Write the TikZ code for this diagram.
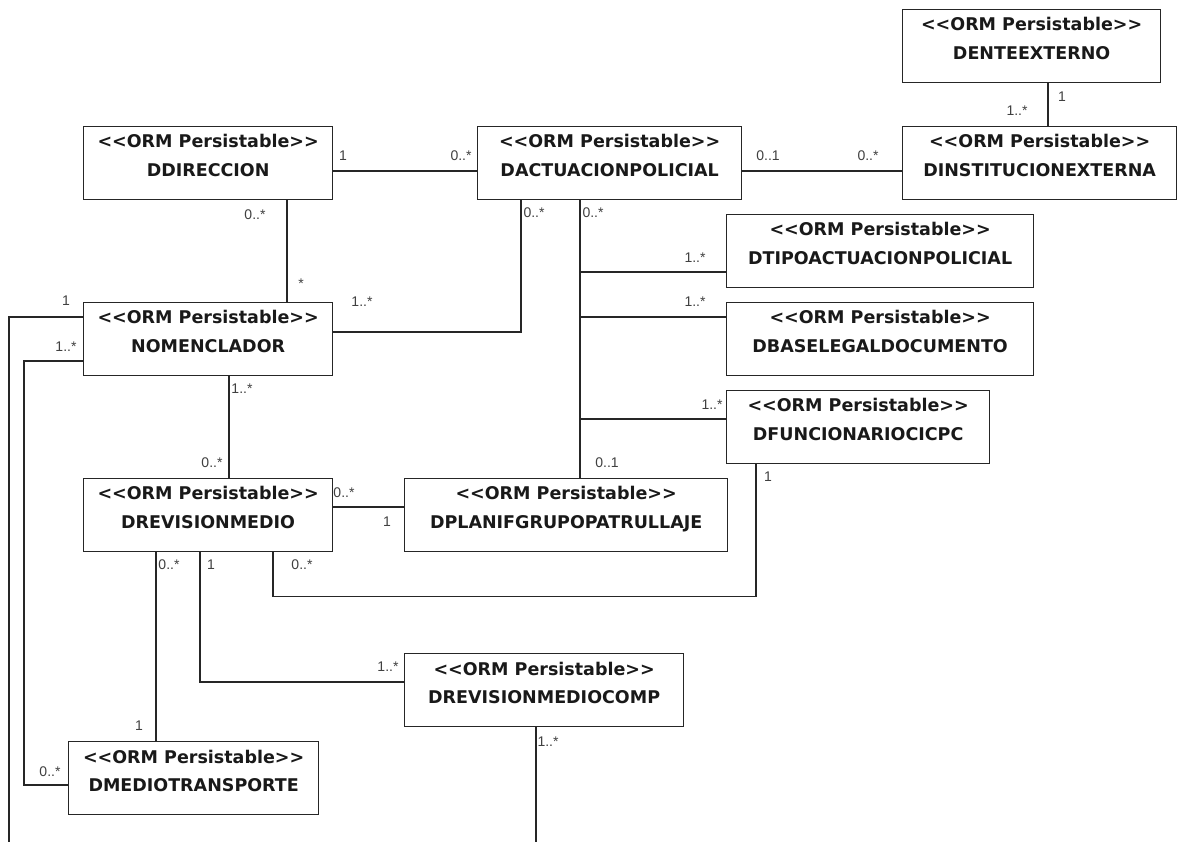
\documentclass[tikz,border=0pt]{standalone}
\usepackage{fontspec}
\newfontfamily\classfont{DejaVu Sans}
\newfontfamily\multfont{Liberation Sans}
\tikzset{
  assoc/.style={draw=black!85, line width=1.2pt},
  cls/.style={draw=black!85, line width=1.3pt, fill=white, minimum height=73pt,
    inner sep=0pt, anchor=north west},
  clstext/.style={anchor=north, inner sep=0pt, align=center, text=black!90,
    font=\classfont\bfseries\fontsize{17.5}{28.5}\selectfont},
  mult/.style={inner sep=0pt, text=black!75, font=\multfont\fontsize{14}{16}\selectfont},
}
% class box: name, left, top, width, class title
\newcommand\ormclass[5]{%
  \node[cls, minimum width=#4] (#1) at (#2,#3) {};
  \node[clstext] (#1-txt) at ([yshift=-8.5pt]#1.north)
    {<\kern0pt<ORM Persistable>\kern0pt>\\#5};
}
\begin{document}
\begin{tikzpicture}[x=1pt, y=-1pt]
\useasboundingbox[fill=white] (0,0) rectangle (1177,842);

% classes
\ormclass{dente}{902}{9}{258}{DENTEEXTERNO}
\ormclass{dinst}{902}{126}{274}{DINSTITUCIONEXTERNA}
\ormclass{dact}{477}{126}{264}{DACTUACIONPOLICIAL}
\ormclass{ddir}{83}{126}{249}{DDIRECCION}
\ormclass{nomen}{83}{302}{249}{NOMENCLADOR}
\ormclass{dtipo}{726}{214}{307}{DTIPOACTUACIONPOLICIAL}
\ormclass{dbase}{726}{302}{307}{DBASELEGALDOCUMENTO}
\ormclass{dfunc}{726}{390}{263}{DFUNCIONARIOCICPC}
\ormclass{drevm}{83}{478}{249}{DREVISIONMEDIO}
\ormclass{dplan}{404}{478}{323}{DPLANIFGRUPOPATRULLAJE}
\ormclass{drevc}{404}{653}{279}{DREVISIONMEDIOCOMP}
\ormclass{dmedio}{68}{741}{250}{DMEDIOTRANSPORTE}

% junctions and open ends
\coordinate (j1) at (580,272);
\coordinate (j2) at (580,317);
\coordinate (j3) at (580,419);
\coordinate (k17) at (24,361);
\coordinate (e15) at (536,842);
\coordinate (e16) at (9,842);

% associations
\draw[assoc] ([yshift=-45pt]ddir.north east) -- ([yshift=-45pt]dact.north west);
\draw[assoc] ([yshift=-45pt]dact.north east) -- ([yshift=-45pt]dinst.north west);
\draw[assoc] ([xshift=146pt]dente.south west) -- ([xshift=146pt]dinst.north west);
\draw[assoc] ([xshift=204pt]ddir.south west) -- ([xshift=204pt]nomen.north west);
\draw[assoc] ([yshift=-30pt]nomen.north east) -| ([xshift=44pt]dact.south west);
\draw[assoc] ([xshift=103pt]dact.south west) -- ([xshift=176pt]dplan.north west);
\draw[assoc] (j1) -- (j1 -| dtipo.west);
\draw[assoc] (j2) -- (j2 -| dbase.west);
\draw[assoc] (j3) -- (j3 -| dfunc.west);
\draw[assoc] ([xshift=30pt]dfunc.south west) -- ++(0,132) -| ([xshift=190pt]drevm.south west);
\draw[assoc] ([yshift=-29pt]drevm.north east) -- ([yshift=-29pt]dplan.north west);
\draw[assoc] ([xshift=146pt]nomen.south west) -- ([xshift=146pt]drevm.north west);
\draw[assoc] ([xshift=73pt]drevm.south west) -- ([xshift=88pt]dmedio.north west);
\draw[assoc] ([xshift=117pt]drevm.south west) |- ([yshift=-29pt]drevc.north west);
\draw[assoc] ([xshift=132pt]drevc.south west) -- (e15);
\draw[assoc] ([yshift=-15pt]nomen.north west) -| (e16);
\draw[assoc] ([yshift=-59pt]nomen.north west) -- (k17) |- ([yshift=-44pt]dmedio.north west);

% multiplicities
\node[mult] (m1a) at (343,156) {1};
\node[mult] (m1b) at (461,156) {0..*};
\node[mult] (m2a) at (768,156) {0..1};
\node[mult] (m2b) at (868,156) {0..*};
\node[mult] (m3a) at (1062,97) {1};
\node[mult] (m3b) at (1017,111) {1..*};
\node[mult] (m4a) at (255,215) {0..*};
\node[mult] (m4b) at (301,284) {*};
\node[mult] (m5a) at (362,302) {1..*};
\node[mult] (m5b) at (534,213) {0..*};
\node[mult] (m6a) at (593,213) {0..*};
\node[mult] (m6b) at (607,463) {0..1};
\node[mult] (m7) at (695,258) {1..*};
\node[mult] (m8) at (695,302) {1..*};
\node[mult] (m9) at (712,405) {1..*};
\node[mult] (m10a) at (768,477) {1};
\node[mult] (m10b) at (302,565) {0..*};
\node[mult] (m11a) at (344,493) {0..*};
\node[mult] (m11b) at (387,522) {1};
\node[mult] (m12a) at (242,389) {1..*};
\node[mult] (m12b) at (212,463) {0..*};
\node[mult] (m13a) at (169,565) {0..*};
\node[mult] (m13b) at (139,726) {1};
\node[mult] (m14a) at (211,565) {1};
\node[mult] (m14b) at (388,667) {1..*};
\node[mult] (m15) at (548,742) {1..*};
\node[mult] (m16) at (66,301) {1};
\node[mult] (m17a) at (66,347) {1..*};
\node[mult] (m17b) at (50,772) {0..*};
\end{tikzpicture}
\end{document}
